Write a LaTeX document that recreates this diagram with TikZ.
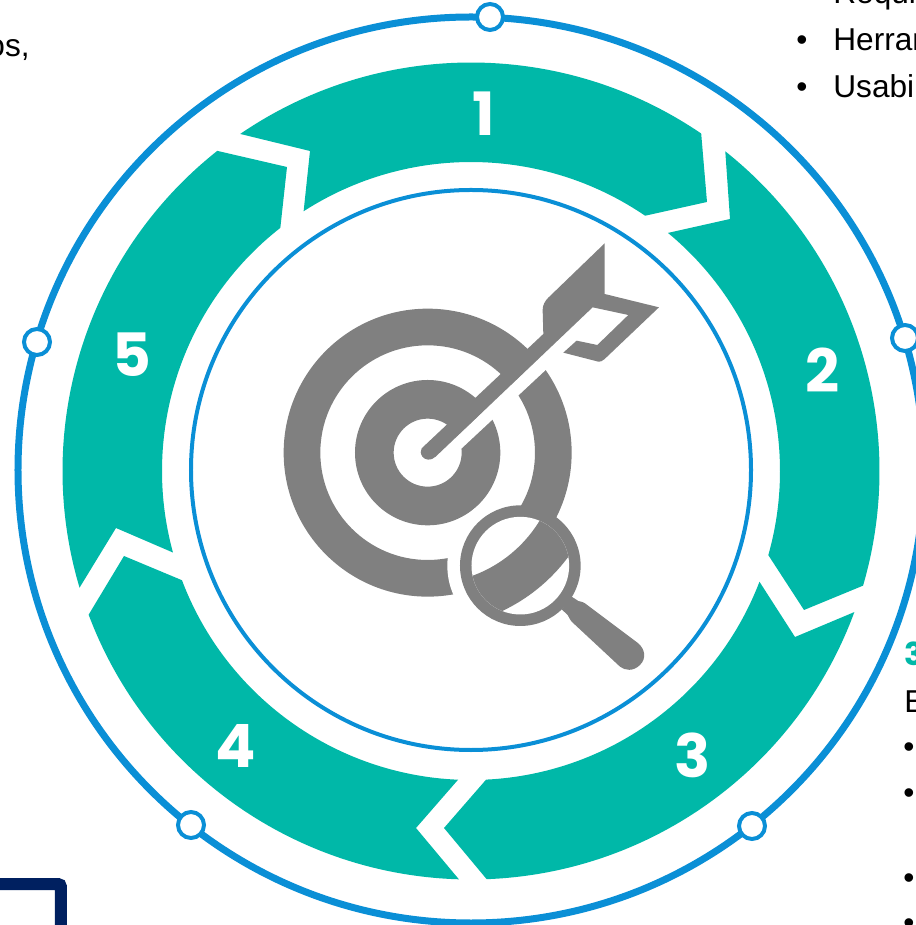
\documentclass[tikz,border=0pt]{standalone}
\usepackage{fontspec}
\setmainfont{Liberation Sans}
\newfontfamily\numfont{Poppins}
\definecolor{segteal}{HTML}{00B8A8}
\definecolor{ringblue}{HTML}{0A8FD6}
\definecolor{icongray}{HTML}{808080}
\definecolor{boxnavy}{HTML}{002060}
\tikzset{
  segment/.style={fill=segteal},
  ringdot/.style={circle, draw=ringblue, fill=white, line width=0.08cm, minimum size=0.52cm, inner sep=0pt},
  segnum/.style={text=white, inner sep=0pt, font=\numfont\bfseries\fontsize{34}{34}\selectfont},
  bodytext/.style={inner sep=0pt, anchor=base west, text=black, font=\fontsize{18}{18}\selectfont},
}
\begin{document}
\begin{tikzpicture}[x=0.02cm,y=0.02cm]
      \useasboundingbox (-471,-455) rectangle (444,470);
      \draw [ringblue, line width=0.14cm] (0,0) circle (453);
      \draw [ringblue, line width=0.08cm] (0,0) circle (280);
      \begin{scope}[shift={(0,-1)}]
        \fill [segment] (124.4:408.5) arc [start angle=124.4, end angle=55.7, radius=408.5] -- (236,269) -- (55.7:309) arc [start angle=55.7, end angle=122.8, radius=309] -- (-161,320) -- cycle;
        \fill [segment] (51.5:408.5) arc [start angle=51.5, end angle=-16.3, radius=408.5] -- (333,-139) -- (-15.8:309) arc [start angle=-15.8, end angle=50.4, radius=309] -- (259,252) -- cycle;
        \fill [segment] (-20.2:408.5) arc [start angle=-20.2, end angle=-87.8, radius=408.5] -- (-27,-357) -- (-87.2:309) arc [start angle=-87.2, end angle=-21.0, radius=309] -- (324,-166) -- cycle;
        \fill [segment] (-91.7:408.5) arc [start angle=-91.7, end angle=-159.4, radius=408.5] -- (-347,-85) -- (-159.3:309) arc [start angle=-159.3, end angle=-92.4, radius=309] -- (-55,-357) -- cycle;
        \fill [segment] (-163.4:408.5) arc [start angle=-163.4, end angle=-231.6, radius=408.5] -- (-184,304) -- (-231.9:309) arc [start angle=-231.9, end angle=-164.7, radius=309] -- (-355,-57) -- cycle;
      \end{scope}
      \node [segnum] (num1) at (13,356) {1};
      \node [segnum] (num2) at (352,100) {2};
      \node [segnum] (num3) at (222,-285) {3};
      \node [segnum] (num4) at (-235,-276) {4};
      \node [segnum] (num5) at (-339,115) {5};
      \node [ringdot] (dot1) at (19,453) {};
      \node [ringdot] (dot2) at (434,132) {};
      \node [ringdot] (dot3) at (281,-356) {};
      \node [ringdot] (dot4) at (-280,-355) {};
      \node [ringdot] (dot5) at (-434,128) {};
      \begin{scope}[shift={(-201,240)},x=0.006667cm,y=-0.006667cm]
        \fill [icongray, even odd rule] (473,668) circle (432) (473,668) circle (322) (473,668) circle (218) (473,668) circle (102);
        \fill [white] (530,697) -- (900,352) -- (900,295) -- (497,680) -- cycle;
        \fill [icongray] (455,655) -- (820,312) -- (818,240) .. controls (818,225) and (825,213) .. (835,203) -- (1004,40) -- (1004,192) -- (1167,232) -- (1003,388) .. controls (996,395) and (990,395) .. (985,395) -- (880,368) -- (920,332) -- (982,345) -- (1075,255) -- (968,232) -- (497,680) .. controls (482,694) and (465,690) .. (457,680) .. controls (452,671) and (450,662) .. (455,655) -- cycle;
        \fill [white] (751,1226) arc [start angle=90, end angle=270, radius=219] -- cycle;
        \fill [icongray] (751,1007) circle (181);
        \fill [white] (751,1007) circle (146.5);
        \begin{scope}
          \clip (751,1007) circle (146.5);
          \fill [icongray, even odd rule] (473,668) circle (525) (473,668) circle (393);
        \end{scope}
        \fill [icongray] (905,1100) -- (925,1113) .. controls (935,1115) and (940,1117) .. (945,1120) -- (1105,1240) .. controls (1125,1258) and (1130,1285) .. (1110,1305) .. controls (1090,1325) and (1065,1322) .. (1050,1310) -- (905,1175) .. controls (897,1165) and (897,1160) .. (893,1155) -- (875,1138) -- cycle;
      \end{scope}
      \node [bodytext] (req) at (362,466) {Requi};
      \node [bodytext] (bul1) at (325,419) {•};
      \node [bodytext] (herr) at (362,419) {Herram};
      \node [bodytext] (bul2) at (325,372) {•};
      \node [bodytext] (usab) at (362,372) {Usabi};
      \node [bodytext, anchor=base east] (frag) at (-441,413) {os,};
      \node [bodytext, text=segteal, font=\numfont\bfseries\fontsize{18}{18}\selectfont] (sec3) at (433,-195) {3};
      \node [bodytext] (estr) at (433,-242) {E};
      \node [bodytext] (bul3) at (432,-287) {•};
      \node [bodytext] (bul4) at (432,-333) {•};
      \node [bodytext] (bul5) at (432,-418) {•};
      \node [bodytext] (bul6) at (432,-463) {•};
      \draw [boxnavy, line width=0.24cm, rounded corners=0.06cm] (-480,-414) -- (-410,-414) -- (-410,-470);
    \end{tikzpicture}
\end{document}
